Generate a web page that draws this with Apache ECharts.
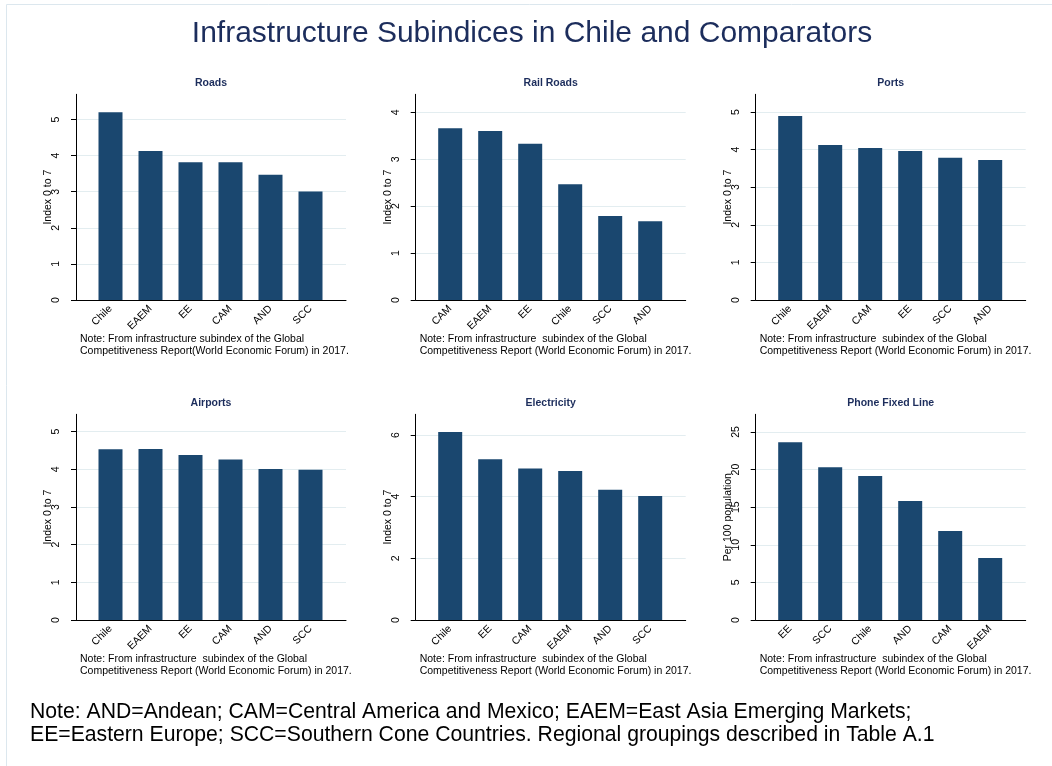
<!DOCTYPE html>
<html><head><meta charset="utf-8">
<script src="https://cdn.jsdelivr.net/npm/echarts@6/dist/echarts.min.js"></script>
<style>html,body{margin:0;padding:0;background:#fff}#c{width:1052px;height:766px}</style>
</head><body><div id="c"></div>
<script>
// ---- data ----
const roadsCats = ['Chile','EAEM','EE','CAM','AND','SCC'];
const roadsVals = [5.20,4.13,3.82,3.82,3.47,3.01];
const railCats = ['CAM','EAEM','EE','Chile','SCC','AND'];
const railVals = [3.66,3.60,3.33,2.47,1.79,1.68];
const portsCats = ['Chile','EAEM','CAM','EE','SCC','AND'];
const portsVals = [4.89,4.12,4.04,3.96,3.78,3.72];
const airCats = ['Chile','EAEM','EE','CAM','AND','SCC'];
const airVals = [4.53,4.54,4.38,4.26,4.01,3.99];
const elecCats = ['Chile','EE','CAM','EAEM','AND','SCC'];
const elecVals = [6.10,5.21,4.91,4.83,4.22,4.02];
const phoneCats = ['EE','SCC','Chile','AND','CAM','EAEM'];
const phoneVals = [23.63,20.30,19.15,15.82,11.84,8.24];

const panelTitles = ['Roads','Rail Roads','Ports','Airports','Electricity','Phone Fixed Line'];
const yTitles = ['Index 0 to 7','Index 0 to 7','Index 0 to 7','Index 0 to 7','Index 0 to 7','Per 100 population'];
const yTopTicks = [5,4,5,5,6,25];
const yIntervals = [1,1,1,1,2,5];
const yMaxes = [5.70,4.385,5.47,5.46,6.67,27.35];

const mainTitle = 'Infrastructure Subindices in Chile and Comparators';
const noteA1 = 'Note: From infrastructure subindex of the Global';
const noteA2 = 'Competitiveness Report(World Economic Forum) in 2017.';
const noteB1 = 'Note: From infrastructure  subindex of the Global';
const noteB2 = 'Competitiveness Report (World Economic Forum) in 2017.';
const footLine1 = 'Note: AND=Andean; CAM=Central America and Mexico; EAEM=East Asia Emerging Markets;';
const footLine2 = 'EE=Eastern Europe; SCC=Southern Cone Countries. Regional groupings described in Table A.1';

const panelCats = [roadsCats, railCats, portsCats, airCats, elecCats, phoneCats];
const panelVals = [roadsVals, railVals, portsVals, airVals, elecVals, phoneVals];
const panelNotes = [[noteA1,noteA2],[noteB1,noteB2],[noteB1,noteB2],[noteB1,noteB2],[noteB1,noteB2],[noteB1,noteB2]];

// ---- layout ----
const FONT = '"Liberation Sans", Arial, sans-serif';
const colL = [76, 415.7, 755.7];
const plotW = 270;
const rowTop = [94.3, 414.3];
const rowZero = [300, 620];
const barPad = 14.5, barBand = 240;
const navy = '#1a476f';
const titleColor = '#1c2d5c';
const SMALL = 10.5;

const grid = [], xAxis = [], yAxis = [], series = [], graphic = [];

graphic.push({type:'rect', shape:{x:6.5,y:4.5,width:1100,height:800}, style:{fill:'none', stroke:'#dce7ee', lineWidth:1}, silent:true});
graphic.push({type:'text', x:532, y:34, style:{text:mainTitle, font:'normal 30px ' + FONT, fill:titleColor, align:'center', verticalAlign:'middle', textAlign:'center', textVerticalAlign:'middle'}});
graphic.push({type:'text', x:30, y:712, style:{text:footLine1, font:'normal 21.2px ' + FONT, fill:'#000', align:'left', verticalAlign:'middle', textAlign:'left', textVerticalAlign:'middle'}});
graphic.push({type:'text', x:30, y:735, style:{text:footLine2, font:'normal 21.2px ' + FONT, fill:'#000', align:'left', verticalAlign:'middle', textAlign:'left', textVerticalAlign:'middle'}});

for (let k = 0; k < 6; k++) {
  const c = k % 3, r = Math.floor(k / 3);
  const L = colL[c], T = rowTop[r], Z = rowZero[r], H = Z - T;
  const yMax = yMaxes[k];
  const tickH = yTopTicks[k] * H / yMax;
  grid.push({left:L, top:T, width:plotW, height:H, outerBoundsMode:'none'});
  grid.push({left:L, top:Z - tickH, width:plotW, height:tickH, outerBoundsMode:'none'});
  grid.push({left:L + barPad, top:T, width:barBand, height:H, outerBoundsMode:'none'});
  const g = 3 * k;
  xAxis.push({gridIndex:g, type:'value', min:0, max:1, z:5,
    axisLine:{show:true, onZero:false, lineStyle:{color:'#000', width:1}},
    axisTick:{show:false}, axisLabel:{show:false}, splitLine:{show:false}});
  xAxis.push({gridIndex:g+1, type:'value', min:0, max:1, show:false});
  xAxis.push({gridIndex:g+2, type:'category', data:panelCats[k],
    axisLine:{show:false}, axisTick:{show:false},
    axisLabel:{rotate:45, margin:7, interval:0, fontSize:SMALL, fontFamily:FONT, color:'#000'}});
  yAxis.push({gridIndex:g, type:'value', min:0, max:yMax, z:5,
    axisLine:{show:true, onZero:false, lineStyle:{color:'#000', width:1}},
    axisTick:{show:false}, axisLabel:{show:false}, splitLine:{show:false},
    name:yTitles[k], nameLocation:'middle', nameRotate:90, nameGap:22,
    nameTextStyle:{fontSize:SMALL, fontFamily:FONT, color:'#000'}});
  yAxis.push({gridIndex:g+1, type:'value', min:0, max:yTopTicks[k], interval:yIntervals[k],
    axisLine:{show:false}, axisTick:{show:true, length:5, lineStyle:{color:'#000'}},
    axisLabel:{rotate:90, margin:14, fontSize:SMALL, fontFamily:FONT, color:'#000'},
    splitLine:{show:true, lineStyle:{color:'#e3edf0', width:1}}});
  yAxis.push({gridIndex:g+2, type:'value', min:0, max:yMax, show:false});
  series.push({type:'bar', xAxisIndex:g+2, yAxisIndex:g+2, data:panelVals[k], barWidth:24,
    itemStyle:{color:navy}, silent:true});
  graphic.push({type:'text', x:L + plotW/2, y:Z - 216.7, style:{text:panelTitles[k], font:'bold 10.5px ' + FONT, fill:titleColor, align:'center', verticalAlign:'middle', textAlign:'center', textVerticalAlign:'middle'}});
  graphic.push({type:'text', x:L + 4, y:Z + 39.3, style:{text:panelNotes[k][0], font:'normal ' + SMALL + 'px ' + FONT, fill:'#000', align:'left', verticalAlign:'middle', textAlign:'left', textVerticalAlign:'middle'}});
  graphic.push({type:'text', x:L + 4, y:Z + 51, style:{text:panelNotes[k][1], font:'normal ' + SMALL + 'px ' + FONT, fill:'#000', align:'left', verticalAlign:'middle', textAlign:'left', textVerticalAlign:'middle'}});
}

const chart = echarts.init(document.getElementById('c'), null, {renderer:'canvas'});
chart.setOption({
  animation:false,
  backgroundColor:'#fff',
  grid, xAxis, yAxis, series, graphic
});
</script></body></html>
